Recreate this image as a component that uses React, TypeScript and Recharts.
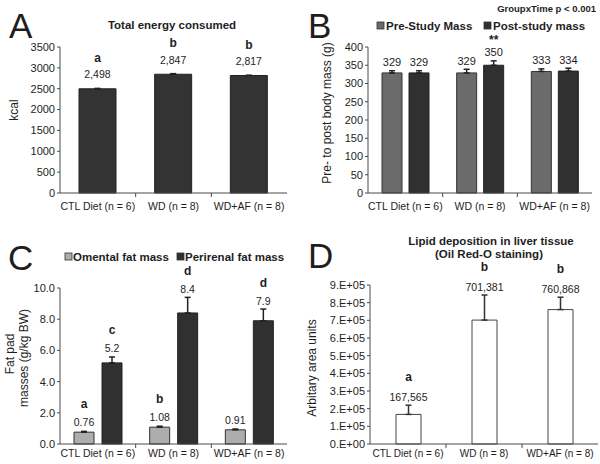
import React from "react";
import { Bar, BarChart, ErrorBar, LabelList, XAxis, YAxis } from "recharts";

const groups = ["CTL Diet (n = 6)", "WD (n = 8)", "WD+AF (n = 8)"];

// A - total energy consumed (kcal)
const energyKcal = [2498, 2847, 2817];
const energySem = [10, 14, 4];
const energyLetters = ["a", "b", "b"];
const energyTicks = [0, 500, 1000, 1500, 2000, 2500, 3000, 3500];

// B - body mass (g)
const preMass = [329, 329, 333];
const preSem = [6, 10, 7];
const postMass = [329, 350, 334];
const postSem = [6, 12, 8];
const preMarks = ["", "", ""];
const postMarks = ["", "**", ""];
const massTicks = [0, 50, 100, 150, 200, 250, 300, 350, 400];

// C - fat pads (g/kg BW)
const omentalFat = [0.76, 1.08, 0.91];
const omentalSem = [0.05, 0.06, 0.05];
const omentalLetters = ["a", "b", ""];
const perirenalFat = [5.2, 8.4, 7.9];
const perirenalSem = [0.38, 1.0, 0.75];
const perirenalLetters = ["c", "d", "d"];
const fatTicks = [0, 2, 4, 6, 8, 10];

// D - oil red-o area
const lipidArea = [167565, 701381, 760868];
const lipidSem = [52000, 142000, 70000];
const lipidLetters = ["a", "b", "b"];
const lipidTicks = [0, 100000, 200000, 300000, 400000, 500000, 600000, 700000, 800000, 900000];

const FONT = "'Liberation Sans', Arial, sans-serif";
const AXIS = "#4a4a4a";
const INK = "#1e1e1e";

const energyData = groups.map((g, i) => ({ group: g, kcal: energyKcal[i], sem: energySem[i] }));
const massData = groups.map((g, i) => ({
  group: g,
  pre: preMass[i],
  preSem: preSem[i],
  post: postMass[i],
  postSem: postSem[i],
}));
const fatData = groups.map((g, i) => ({
  group: g,
  omental: omentalFat[i],
  omentalSem: omentalSem[i],
  perirenal: perirenalFat[i],
  perirenalSem: perirenalSem[i],
}));
const lipidData = groups.map((g, i) => ({ group: g, area: lipidArea[i], sem: lipidSem[i] }));

const groupTick = (band: number, dy: number, fs: number) => (p: any) => {
  const { x, y, payload, index } = p;
  return (
    <g>
      <text x={x} y={y + dy} textAnchor="middle" fontSize={fs} fill={INK} fontFamily={FONT}>
        {payload.value}
      </text>
      {index < groups.length - 1 && (
        <line x1={x + band / 2} x2={x + band / 2} y1={y} y2={y + 4} stroke={AXIS} />
      )}
    </g>
  );
};

type LabelOpts = {
  sem: number[];
  marks: string[];
  fmt: (v: number) => string;
  gap: number;
  markGap: number;
  fs: number;
};

const barLabel = (o: LabelOpts) => (p: any) => {
  const vb = p.viewBox ?? p;
  const x = Number(vb.x);
  const y = Number(vb.y);
  const w = Number(vb.width);
  const h = Math.abs(Number(vb.height));
  const i = p.index ?? 0;
  const v = Number(p.value);
  const errPx = v ? (h * o.sem[i]) / v : 0;
  const cx = x + w / 2;
  const base = y - errPx - o.gap;
  return (
    <g>
      <text x={cx} y={base} textAnchor="middle" fontSize={o.fs} fill={INK} fontFamily={FONT}>
        {o.fmt(v)}
      </text>
      {o.marks[i] && (
        <text
          x={cx}
          y={base - o.markGap}
          textAnchor="middle"
          fontSize={12}
          fontWeight="bold"
          fill={INK}
          fontFamily={FONT}
        >
          {o.marks[i]}
        </text>
      )}
    </g>
  );
};

const yTick = { fontSize: 11, fill: INK, fontFamily: FONT };
const commas = (v: number) => v.toLocaleString("en-US");
const sciTick = (v: number) => (v === 0 ? "0.E+00" : `${v / 100000}.E+05`);

const Square = ({ x, y, fill }: { x: number; y: number; fill: string }) => (
  <rect x={x} y={y} width={7} height={7} fill={fill} stroke="#333" strokeWidth={0.8} />
);

const Overlay = () => (
  <svg
    width={600}
    height={464}
    style={{ position: "absolute", left: 0, top: 0, pointerEvents: "none" }}
    fontFamily={FONT}
    fill={INK}
  >
    {/* panel letters */}
    <text x={9} y={38} fontSize={35}>A</text>
    <text x={308} y={38} fontSize={35}>B</text>
    <text x={8} y={270} fontSize={35}>C</text>
    <text x={308} y={268} fontSize={35}>D</text>

    {/* A */}
    <text x={172} y={29} fontSize={11.5} fontWeight="bold" textAnchor="middle">Total energy consumed</text>
    <text transform="translate(18,110) rotate(-90)" fontSize={12} textAnchor="middle">kcal</text>

    {/* B */}
    <text x={596} y={12} fontSize={9.5} fontWeight="bold" textAnchor="end">GroupxTime p &lt; 0.001</text>
    <Square x={377} y={22} fill="#6b6b6b" />
    <text x={386} y={30} fontSize={11.5} fontWeight="bold">Pre-Study Mass</text>
    <Square x={484} y={22} fill="#303030" />
    <text x={493} y={30} fontSize={11.5} fontWeight="bold">Post-study mass</text>
    <text transform="translate(331,113) rotate(-90)" fontSize={12} textAnchor="middle">Pre- to post body mass (g)</text>

    {/* C */}
    <Square x={65} y={253} fill="#adadad" />
    <text x={73} y={261} fontSize={11.5} fontWeight="bold">Omental fat mass</text>
    <Square x={177} y={253} fill="#303030" />
    <text x={185} y={261} fontSize={11.5} fontWeight="bold">Perirenal fat mass</text>
    <text transform="translate(14,354) rotate(-90)" fontSize={12} textAnchor="middle">Fat pad</text>
    <text transform="translate(28,358) rotate(-90)" fontSize={12} textAnchor="middle">masses (g/kg BW)</text>

    {/* D */}
    <text x={491} y={245} fontSize={11.5} fontWeight="bold" textAnchor="middle">Lipid deposition in liver tissue</text>
    <text x={489} y={258} fontSize={11.5} fontWeight="bold" textAnchor="middle">(Oil Red-O staining)</text>
    <text transform="translate(316,368) rotate(-90)" fontSize={12} textAnchor="middle">Arbitary area units</text>
  </svg>
);

const pos = (left: number, top: number): React.CSSProperties => ({ position: "absolute", left, top });

export default function App() {
  return (
    <div
      style={{
        position: "absolute",
        left: 0,
        top: 0,
        width: 600,
        height: 464,
        background: "#fff",
        fontFamily: FONT,
        overflow: "hidden",
      }}
    >
      {/* A */}
      <div style={pos(0, 0)}>
        <BarChart width={300} height={232} data={energyData} margin={{ top: 47, right: 13, bottom: 19, left: 0 }} barSize={37}>
          <XAxis
            dataKey="group"
            height={20}
            stroke={AXIS}
            tickLine={false}
            tickSize={0}
            tickMargin={0}
            interval={0}
            tick={groupTick(227 / 3, 17, 10.5)}
          />
          <YAxis width={60} domain={[0, 3500]} ticks={energyTicks} stroke={AXIS} tickSize={3} tick={yTick} interval={0} />
          <Bar dataKey="kcal" fill="#333333" stroke="#222" isAnimationActive={false}>
            <ErrorBar dataKey={(d: any) => [0, d.sem]} width={3} stroke="#222" isAnimationActive={false} />
            <LabelList
              dataKey="kcal"
              content={barLabel({ sem: energySem, marks: energyLetters, fmt: commas, gap: 10, markGap: 16.5, fs: 10.5 })}
            />
          </Bar>
        </BarChart>
      </div>

      {/* B */}
      <div style={pos(300, 0)}>
        <BarChart width={300} height={232} data={massData} margin={{ top: 47, right: 8, bottom: 19, left: 0 }} barSize={20} barGap={7}>
          <XAxis
            dataKey="group"
            height={20}
            stroke={AXIS}
            tickLine={false}
            tickSize={0}
            tickMargin={0}
            interval={0}
            tick={groupTick(224 / 3, 17, 10.5)}
          />
          <YAxis width={68} domain={[0, 400]} ticks={massTicks} stroke={AXIS} tickSize={3} tick={yTick} interval={0} />
          <Bar dataKey="pre" fill="#6b6b6b" stroke="#333" isAnimationActive={false}>
            <ErrorBar dataKey={(d: any) => [0, d.preSem]} width={3} stroke="#222" isAnimationActive={false} />
            <LabelList
              dataKey="pre"
              content={barLabel({ sem: preSem, marks: preMarks, fmt: String, gap: 4.5, markGap: 8, fs: 11 })}
            />
          </Bar>
          <Bar dataKey="post" fill="#303030" stroke="#222" isAnimationActive={false}>
            <ErrorBar dataKey={(d: any) => [0, d.postSem]} width={3} stroke="#222" isAnimationActive={false} />
            <LabelList
              dataKey="post"
              content={barLabel({ sem: postSem, marks: postMarks, fmt: String, gap: 4.5, markGap: 12.5, fs: 11 })}
            />
          </Bar>
        </BarChart>
      </div>

      {/* C */}
      <div style={pos(0, 232)}>
        <BarChart width={300} height={232} data={fatData} margin={{ top: 56, right: 13, bottom: 0, left: 0 }} barSize={20} barGap={8}>
          <XAxis
            dataKey="group"
            height={20}
            stroke={AXIS}
            tickLine={false}
            tickSize={0}
            tickMargin={0}
            interval={0}
            tick={groupTick(227 / 3, 13, 10.5)}
          />
          <YAxis
            width={60}
            domain={[0, 10]}
            ticks={fatTicks}
            stroke={AXIS}
            tickSize={3}
            tick={yTick}
            interval={0}
            tickFormatter={(v: number) => v.toFixed(1)}
          />
          <Bar dataKey="omental" fill="#adadad" stroke="#333" isAnimationActive={false}>
            <ErrorBar dataKey={(d: any) => [0, d.omentalSem]} width={3} stroke="#222" isAnimationActive={false} />
            <LabelList
              dataKey="omental"
              content={barLabel({ sem: omentalSem, marks: omentalLetters, fmt: String, gap: 5, markGap: 18, fs: 10.5 })}
            />
          </Bar>
          <Bar dataKey="perirenal" fill="#303030" stroke="#222" isAnimationActive={false}>
            <ErrorBar dataKey={(d: any) => [0, d.perirenalSem]} width={3} stroke="#222" isAnimationActive={false} />
            <LabelList
              dataKey="perirenal"
              content={barLabel({ sem: perirenalSem, marks: perirenalLetters, fmt: String, gap: 4.5, markGap: 18, fs: 10.5 })}
            />
          </Bar>
        </BarChart>
      </div>

      {/* D */}
      <div style={pos(300, 232)}>
        <BarChart width={300} height={232} data={lipidData} margin={{ top: 53, right: 2, bottom: 0, left: 0 }} barSize={25}>
          <XAxis
            dataKey="group"
            height={20}
            stroke={AXIS}
            tickLine={false}
            tickSize={0}
            tickMargin={0}
            interval={0}
            tick={groupTick(228 / 3, 13, 10)}
          />
          <YAxis
            width={70}
            domain={[0, 900000]}
            ticks={lipidTicks}
            stroke={AXIS}
            tickSize={3}
            tick={yTick}
            interval={0}
            tickFormatter={sciTick}
          />
          <Bar dataKey="area" fill="#ffffff" stroke="#444" isAnimationActive={false}>
            <ErrorBar dataKey={(d: any) => [0, d.sem]} width={3} stroke="#333" isAnimationActive={false} />
            <LabelList
              dataKey="area"
              content={barLabel({ sem: lipidSem, marks: lipidLetters, fmt: commas, gap: 4, markGap: 20, fs: 10.5 })}
            />
          </Bar>
        </BarChart>
      </div>

      <Overlay />
    </div>
  );
}
